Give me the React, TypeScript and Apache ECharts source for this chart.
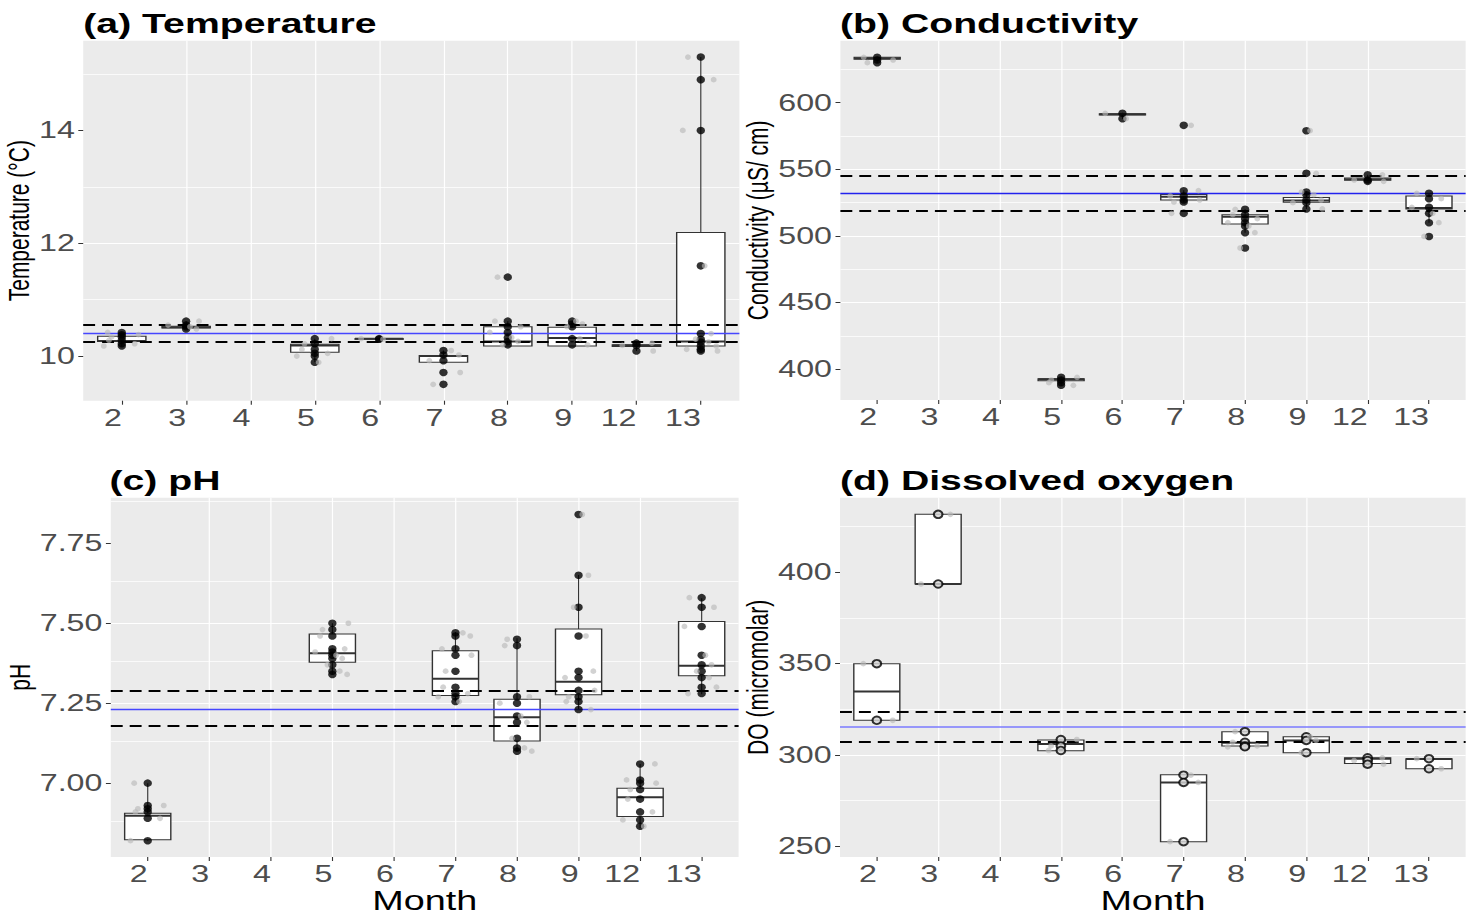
import React, { useEffect, useRef } from "react";
import * as echarts from "echarts";

// ---------------- data ----------------
const MONTHS = ["2", "3", "4", "5", "6", "7", "8", "9", "12", "13"];

// box rows: [monthIndex, lowerWhisker, Q1, median, Q3, upperWhisker]
const TEMP_BOX = [
  [0, 10.17, 10.26, 10.27, 10.35, 10.42],
  [1, 10.48, 10.5, 10.51, 10.53, 10.62],
  [3, 9.89, 10.07, 10.19, 10.21, 10.31],
  [4, 10.29, 10.3, 10.31, 10.31, 10.32],
  [5, 9.89, 9.89, 10.0, 10.01, 10.1],
  [6, 10.18, 10.18, 10.26, 10.52, 10.62],
  [7, 10.18, 10.18, 10.32, 10.51, 10.62],
  [8, 10.09, 10.17, 10.19, 10.2, 10.23],
  [9, 10.09, 10.18, 10.26, 12.19, 15.3],
];
const TEMP_PTS = [
  [10.42, 10.38, 10.34, 10.28, 10.22, 10.18],
  [10.62, 10.55, 10.52, 10.48],
  [],
  [10.31, 10.22, 10.12, 10.05, 10.0, 9.89],
  [10.31, 10.3],
  [10.1, 10.02, 9.92, 9.71, 9.5],
  [11.4, 10.62, 10.52, 10.42, 10.33, 10.26, 10.2],
  [10.62, 10.57, 10.52, 10.31, 10.2],
  [10.23, 10.19, 10.09],
  [15.3, 14.9, 14.0, 11.6, 10.4, 10.3, 10.25, 10.18, 10.12, 10.09],
];
const TEMP_REF = [10.4, 10.25, 10.55]; // mean, lower, upper
const TEMP_TICKS = [10, 12, 14];
const TEMP_MINOR = [11, 13, 15];

const COND_BOX = [
  [0, 629.8, 632.5, 633.3, 634.0, 634.5],
  [3, 387.7, 391.5, 392.5, 393.0, 394.5],
  [4, 587.7, 590.8, 591.3, 591.8, 592.5],
  [5, 525.5, 527.0, 529.5, 531.2, 534.3],
  [6, 502.5, 509.0, 514.5, 516.0, 520.0],
  [7, 520.3, 525.3, 526.6, 528.8, 533.2],
  [8, 541.0, 541.8, 542.6, 543.5, 545.9],
  [9, 510.0, 520.2, 521.0, 530.0, 532.0],
];
const COND_PTS = [
  [634, 632, 630],
  [],
  [],
  [394, 392, 390, 388],
  [592, 588],
  [583, 534, 530, 527, 525.5, 517],
  [520, 516, 513, 510, 507.5, 502.5, 491],
  [579, 547, 533, 531, 527, 525, 520.3],
  [545.9, 542, 541],
  [532, 528, 521.5, 517, 510, 499.7],
];
const COND_REF = [532, 519, 545.5];
const COND_TICKS = [400, 450, 500, 550, 600];
const COND_MINOR = [425, 475, 525, 575, 625];

const PH_BOX = [
  [0, 6.82, 6.823, 6.898, 6.906, 7.0],
  [3, 7.34, 7.378, 7.406, 7.466, 7.5],
  [5, 7.255, 7.274, 7.326, 7.414, 7.472],
  [6, 7.1, 7.132, 7.206, 7.2625, 7.453],
  [7, 7.229, 7.276, 7.317, 7.482, 7.651],
  [8, 6.859, 6.896, 6.956, 6.984, 7.06],
  [9, 7.278, 7.336, 7.367, 7.505, 7.578],
];
const PH_PTS = [
  [7.0, 6.93, 6.92, 6.91, 6.89, 6.82],
  [],
  [],
  [7.5, 7.48, 7.46, 7.42, 7.41, 7.4, 7.39, 7.37, 7.35, 7.34],
  [],
  [7.47, 7.46, 7.42, 7.4, 7.35, 7.3, 7.28, 7.27, 7.255],
  [7.45, 7.43, 7.27, 7.25, 7.21, 7.19, 7.14, 7.11, 7.1],
  [7.84, 7.65, 7.55, 7.46, 7.35, 7.33, 7.29, 7.27, 7.255, 7.23],
  [7.06, 7.01, 7.0, 6.98, 6.95, 6.91, 6.885, 6.865],
  [7.58, 7.55, 7.49, 7.4, 7.37, 7.35, 7.33, 7.3, 7.28],
];
const PH_REF = [7.234, 7.185, 7.286];
const PH_TICKS = [7.0, 7.25, 7.5, 7.75];
const PH_MINOR = [6.875, 7.125, 7.375, 7.625, 7.875];

const DO_BOX = [
  [0, 319.0, 319.0, 334.8, 349.9, 349.9],
  [1, 393.6, 393.6, 393.6, 431.7, 431.7],
  [3, 302.4, 302.4, 306.0, 308.2, 308.5],
  [5, 252.6, 252.6, 284.9, 289.2, 289.2],
  [6, 304.5, 304.9, 306.7, 312.8, 312.8],
  [7, 301.3, 301.3, 308.0, 310.0, 310.0],
  [8, 295.0, 295.4, 298.0, 298.5, 298.5],
  [9, 292.5, 292.5, 297.8, 298.0, 298.0],
];
const DO_PTS = [
  [350, 319],
  [431.7, 393.6],
  [],
  [308.5, 305, 302.5],
  [],
  [289, 285, 252.6],
  [312.8, 307, 305, 304.5],
  [310, 308, 301.3],
  [298.5, 297, 295],
  [298, 292.5],
];
const DO_REF = [315.5, 307.5, 323.5];
const DO_TICKS = [250, 300, 350, 400];
const DO_MINOR = [275, 325, 375, 425];

// horizontal jitter pattern of the grey points (in month units)
const JITTER = [-0.22, 0.2, -0.08, 0.26, -0.28, 0.12, -0.16, 0.06, 0.24, -0.2, 0.16];

// ---------------- layout ----------------
const S = 1.4; // the reference is stretched horizontally
const W = 1466 / S;
const H = 915;
const FONT = "'Liberation Sans', Arial, sans-serif";

const PANELS = [
  {
    title: "(a) Temperature", yName: "Temperature (°C)", box: TEMP_BOX, pts: TEMP_PTS, ref: TEMP_REF,
    ticks: TEMP_TICKS, minor: TEMP_MINOR, min: 9.21, max: 15.59, step: 2, dec: 0,
    left: 83.2, right: 739.4, top: 40.7, bottom: 400.7, nameGap: 28, titleLeft: 83.3, titleTop: 9.6,
    month: false, blue: "#4646ff", blueW: 1.3, hollow: false,
  },
  {
    title: "(b) Conductivity", yName: "Conductivity (µS/ cm)", box: COND_BOX, pts: COND_PTS, ref: COND_REF,
    ticks: COND_TICKS, minor: COND_MINOR, min: 377.0, max: 646.5, step: 50, dec: 0,
    left: 840.4, right: 1479, top: 40.7, bottom: 400.0, nameGap: 40, titleLeft: 840, titleTop: 9.6,
    month: false, blue: "#2222ee", blueW: 1.3, hollow: false,
  },
  {
    title: "(c) pH", yName: "pH", box: PH_BOX, pts: PH_PTS, ref: PH_REF,
    ticks: PH_TICKS, minor: PH_MINOR, min: 6.769, max: 7.8925, step: 0.25, dec: 2,
    left: 110.8, right: 738.6, top: 497.7, bottom: 857.3, nameGap: 45, titleLeft: 109.5, titleTop: 466.3,
    month: true, blue: "#4646ff", blueW: 1.3, hollow: false,
  },
  {
    title: "(d) Dissolved oxygen", yName: "DO (micromolar)", box: DO_BOX, pts: DO_PTS, ref: DO_REF,
    ticks: DO_TICKS, minor: DO_MINOR, min: 244.2, max: 440.8, step: 50, dec: 0,
    left: 840, right: 1479, top: 497.7, bottom: 857.3, nameGap: 40, titleLeft: 840, titleTop: 466.3,
    month: true, blue: "#7a7aff", blueW: 1.6, hollow: true,
  },
];

const IDX = MONTHS.map((_, k) => k);

function buildOption() {
  const grid: any[] = [];
  const xAxis: any[] = [];
  const yAxis: any[] = [];
  const series: any[] = [];
  const title: any[] = [];

  PANELS.forEach((p, i) => {
    grid.push({
      left: p.left / S,
      top: p.top,
      width: (p.right - p.left) / S,
      height: p.bottom - p.top,
      show: true,
      backgroundColor: "#EBEBEB",
      borderWidth: 0,
    });
    title.push({
      text: p.title,
      left: p.titleLeft / S,
      top: p.titleTop,
      padding: 0,
      textStyle: { fontSize: 28, fontWeight: "bold", color: "#000", fontFamily: FONT },
    });
    xAxis.push({
      type: "value",
      gridIndex: i,
      position: "bottom",
      min: -0.6,
      max: 9.6,
      minInterval: 1,
      maxInterval: 1,
      splitNumber: 10,
      axisLine: { show: false, onZero: false },
      axisTick: { show: true, length: 4, lineStyle: { color: "#333", width: 0.8 }, customValues: IDX },
      axisLabel: {
        customValues: IDX,
        formatter: (v: number) => (Math.abs(v - Math.round(v)) < 1e-6 && MONTHS[Math.round(v)] ? MONTHS[Math.round(v)] : ""),
        align: "right",
        margin: 6,
        fontSize: 23,
        color: "#4D4D4D",
        fontFamily: FONT,
      },
      splitLine: { show: true, showMinLine: false, showMaxLine: false, lineStyle: { color: "#ffffff", width: 0.85 } },
      name: p.month ? "Month" : "",
      nameLocation: "middle",
      nameGap: 30,
      nameTextStyle: { fontSize: 27, color: "#000", fontFamily: FONT },
    });
    yAxis.push({
      type: "value",
      gridIndex: i,
      position: "left",
      min: p.min,
      max: p.max,
      minInterval: p.step,
      maxInterval: p.step,
      axisLine: { show: false, onZero: false },
      axisTick: { show: true, length: 3.5, lineStyle: { color: "#333", width: 1 }, customValues: p.ticks },
      axisLabel: {
        customValues: p.ticks,
        formatter: (v: number) => (p.ticks.some((t) => Math.abs(t - v) < 1e-9) ? v.toFixed(p.dec) : ""),
        margin: 6,
        fontSize: 23,
        color: "#4D4D4D",
        fontFamily: FONT,
      },
      splitLine: { show: true, showMinLine: false, showMaxLine: false, lineStyle: { color: "#ffffff", width: 1.2 } },
      name: p.yName,
      nameLocation: "middle",
      nameGap: p.nameGap,
      nameTextStyle: { fontSize: 21, color: "#000", fontFamily: FONT },
    });

    // minor grid lines
    series.push({
      type: "scatter",
      xAxisIndex: i,
      yAxisIndex: i,
      data: [],
      z: 1,
      silent: true,
      markLine: {
        silent: true,
        z: 1,
        symbol: ["none", "none"],
        label: { show: false },
        lineStyle: { color: "#ffffff", width: 0.6, type: "solid" },
        data: p.minor.map((v) => ({ yAxis: v })),
      },
    });

    // boxes
    series.push({
      type: "custom",
      xAxisIndex: i,
      yAxisIndex: i,
      z: 2,
      silent: true,
      data: p.box,
      encode: { x: 0, y: [1, 2, 3, 4, 5] },
      renderItem: (params: any, api: any) => {
        const x = api.value(0);
        const lo = api.value(1), q1 = api.value(2), md = api.value(3), q3 = api.value(4), hi = api.value(5);
        const pLo = api.coord([x, lo]);
        const pQ1 = api.coord([x, q1]);
        const pMd = api.coord([x, md]);
        const pQ3 = api.coord([x, q3]);
        const pHi = api.coord([x, hi]);
        const half = api.size([0.75, 0], [x, md])[0] / 2;
        const cx = pMd[0];
        const stroke = "#333333";
        return {
          type: "group",
          children: [
            { type: "line", shape: { x1: cx, y1: pQ3[1], x2: cx, y2: pHi[1] }, style: { stroke, lineWidth: 0.8 } },
            { type: "line", shape: { x1: cx, y1: pQ1[1], x2: cx, y2: pLo[1] }, style: { stroke, lineWidth: 0.8 } },
            {
              type: "rect",
              shape: { x: cx - half, y: pQ3[1], width: 2 * half, height: Math.max(pQ1[1] - pQ3[1], 0.5) },
              style: { fill: "#ffffff", stroke, lineWidth: 1 },
            },
            { type: "line", shape: { x1: cx - half, y1: pMd[1], x2: cx + half, y2: pMd[1] }, style: { stroke, lineWidth: 2 } },
          ],
        };
      },
    });

    // reference lines
    series.push({
      type: "scatter",
      xAxisIndex: i,
      yAxisIndex: i,
      data: [],
      z: 3,
      silent: true,
      markLine: {
        silent: true,
        z: 3,
        symbol: ["none", "none"],
        label: { show: false },
        data: [
          { yAxis: p.ref[0], lineStyle: { color: p.blue, width: p.blueW, type: "solid", opacity: 1 } },
          { yAxis: p.ref[1], lineStyle: { color: "#000", width: 1.8, type: [8.5, 5] } },
          { yAxis: p.ref[2], lineStyle: { color: "#000", width: 1.8, type: [8.5, 5] } },
        ],
      },
    });

    // points
    const black: number[][] = [];
    const grey: number[][] = [];
    p.pts.forEach((vals, m) => {
      vals.forEach((v, j) => {
        black.push([m, v]);
        grey.push([m + JITTER[(j * 3 + m) % JITTER.length], v]);
      });
    });
    series.push({
      type: "scatter",
      xAxisIndex: i,
      yAxisIndex: i,
      z: 4,
      silent: true,
      data: black,
      symbol: "circle",
      symbolSize: p.hollow ? [6.2, 7.5] : [6, 7.5],
      itemStyle: p.hollow
        ? { color: "#d4d4d4", borderColor: "#000", borderWidth: 1.7 }
        : { color: "#000" },
    });
    series.push({
      type: "scatter",
      xAxisIndex: i,
      yAxisIndex: i,
      z: 5,
      silent: true,
      data: grey,
      symbol: "circle",
      symbolSize: [4.2, 5.6],
      itemStyle: { color: "rgba(185,185,185,0.8)" },
    });
  });

  return { animation: false, backgroundColor: "#ffffff", title, grid, xAxis, yAxis, series };
}

export default function App() {
  const ref = useRef<HTMLDivElement>(null);
  useEffect(() => {
    if (!ref.current) return;
    const chart = echarts.init(ref.current, undefined, { renderer: "svg" });
    chart.setOption(buildOption() as any);
    return () => chart.dispose();
  }, []);
  return (
    <div
      ref={ref}
      style={{
        position: "absolute",
        left: 0,
        top: 0,
        width: W,
        height: H,
        transform: `scaleX(${S})`,
        transformOrigin: "0 0",
        background: "#fff",
      }}
    />
  );
}
